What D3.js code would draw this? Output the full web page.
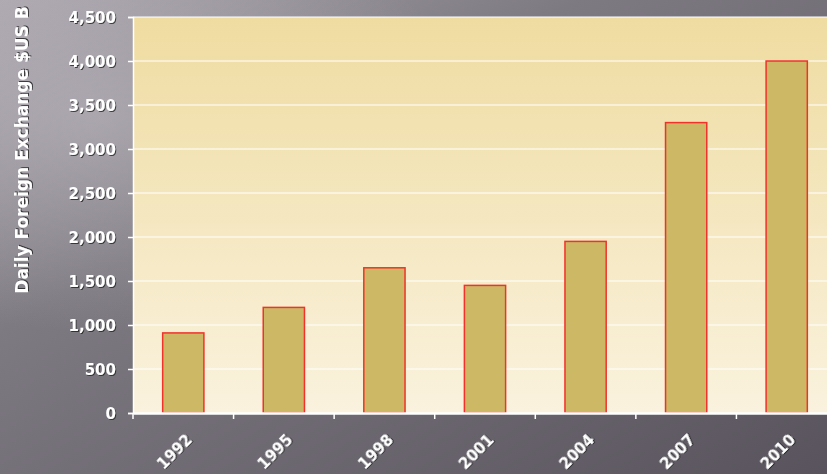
<!doctype html>
<html>
<head>
<meta charset="utf-8" />
<title>Daily Foreign Exchange</title>
<script src="https://cdn.jsdelivr.net/npm/d3@7"></script>
<style>
  html,body{margin:0;padding:0;overflow:hidden}
  body{width:827px;height:474px}
  svg text{font-family:"DejaVu Sans", Arial, sans-serif;font-weight:bold;fill:#fff}
</style>
</head>
<body>
<svg id="chart" width="827" height="474"></svg>
<script>
const years  = ['1992','1995','1998','2001','2004','2007','2010'];
const volume = [910, 1200, 1650, 1450, 1950, 3300, 4000];
const yTicks = [0, 500, 1000, 1500, 2000, 2500, 3000, 3500, 4000, 4500];
const yTitle = 'Daily Foreign Exchange $US B';

const W = 827, H = 474;
const m = {top:17, right:-10, bottom:61, left:133};
const iw = W - m.left - m.right, ih = H - m.top - m.bottom;

const svg = d3.select('#chart');
const defs = svg.append('defs');

// background: dark grey with a pale diagonal streak
const bg = defs.append('linearGradient').attr('id','bg')
  .attr('x1','0').attr('y1','0').attr('x2','1').attr('y2','1');
bg.append('stop').attr('offset','0%').attr('stop-color','#aaa5ad');
bg.append('stop').attr('offset','35%').attr('stop-color','#7e7a82');
bg.append('stop').attr('offset','100%').attr('stop-color','#58535c');
const streak = defs.append('radialGradient').attr('id','streak')
  .attr('cx','0.12').attr('cy','0.25').attr('r','0.45');
streak.append('stop').attr('offset','0%').attr('stop-color','#c8c3cb').attr('stop-opacity',0.45);
streak.append('stop').attr('offset','100%').attr('stop-color','#c8c3cb').attr('stop-opacity',0);

const pg = defs.append('linearGradient').attr('id','plotbg')
  .attr('x1','0').attr('y1','0').attr('x2','0').attr('y2','1');
pg.append('stop').attr('offset','0%').attr('stop-color','#efdca1');
pg.append('stop').attr('offset','100%').attr('stop-color','#faf2de');

const shadow = defs.append('filter').attr('id','shadow')
  .attr('x','-20%').attr('y','-20%').attr('width','140%').attr('height','140%');
shadow.append('feDropShadow').attr('dx',1).attr('dy',1).attr('stdDeviation',0.6)
  .attr('flood-color','#222').attr('flood-opacity',0.8);

svg.append('rect').attr('width',W).attr('height',H).attr('fill','url(#bg)');
svg.append('rect').attr('width',W).attr('height',H).attr('fill','url(#streak)');

const g = svg.append('g').attr('transform',`translate(${m.left},${m.top})`);

const x = d3.scaleBand().domain(years).range([0, iw]).paddingInner(0.59).paddingOuter(0.295);
const y = d3.scaleLinear().domain([0, 4500]).range([ih, 0]);

g.append('rect').attr('width',iw).attr('height',ih).attr('fill','url(#plotbg)');

// gridlines
g.selectAll('.grid').data(yTicks.slice(1)).join('line')
  .attr('x1',0).attr('x2',iw)
  .attr('y1',d=>y(d)).attr('y2',d=>y(d))
  .attr('stroke','#fff').attr('stroke-width',1.2);

// bars
g.selectAll('.bar').data(volume).join('rect')
  .attr('x',(d,i)=>x(years[i]))
  .attr('y',d=>y(d))
  .attr('width',x.bandwidth())
  .attr('height',d=>ih - y(d))
  .attr('fill','#cdb865')
  .attr('stroke','#f0322a').attr('stroke-width',1.5);

// y axis
const ya = g.append('g')
  .call(d3.axisLeft(y).tickValues(yTicks).tickSize(5).tickPadding(12).tickFormat(d3.format(',')));
ya.select('.domain').attr('stroke','#fff').attr('stroke-width',1.5);
ya.selectAll('.tick line').attr('stroke','#fff').attr('stroke-width',1.5);
ya.selectAll('text').attr('font-size',15).attr('fill','#fff').attr('filter','url(#shadow)')
  .attr('dy','0.36em');

// x axis with ticks on band boundaries
const xa = g.append('g').attr('transform',`translate(0,${ih})`)
  .call(d3.axisBottom(x).tickSize(0).tickPadding(0));
xa.select('.domain').attr('stroke','#fff').attr('stroke-width',2.5);
xa.selectAll('text').attr('font-size',15).attr('fill','#fff').attr('filter','url(#shadow)')
  .attr('text-anchor','end').attr('y',0).attr('dy','0.7em')
  .attr('transform','translate(2,20) rotate(-45)');
const step = x.step();
g.selectAll('.xtick').data(d3.range(years.length + 1)).join('line')
  .attr('x1',i=>i*step).attr('x2',i=>i*step)
  .attr('y1',ih).attr('y2',ih + 6)
  .attr('stroke','#fff').attr('stroke-width',1.5);

// y title
svg.append('text')
  .attr('transform','translate(28,150) rotate(-90)')
  .attr('text-anchor','middle')
  .attr('font-size',17)
  .attr('filter','url(#shadow)')
  .text(yTitle);
</script>
</body>
</html>
